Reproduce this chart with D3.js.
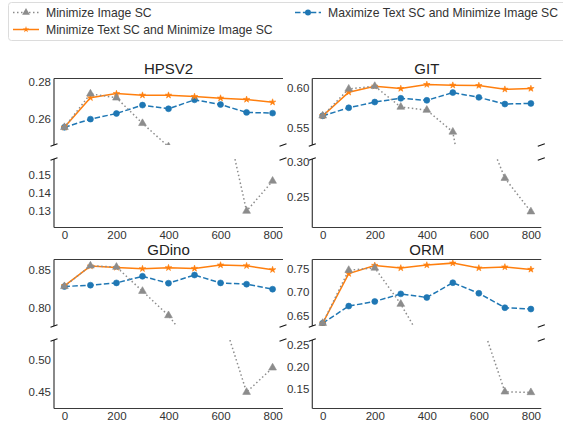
<!DOCTYPE html>
<html>
<head>
<meta charset="utf-8">
<script src="https://cdn.jsdelivr.net/npm/d3@7"></script>
<style>
body { margin: 0; background: #fff; }
text { font-family: "Liberation Sans", Arial, sans-serif; }
</style>
</head>
<body>
<svg id="chart" width="563" height="423"></svg>
<script>
// ---- data ----
var steps = [0, 100, 200, 300, 400, 500, 600, 700, 800];
var xTicks = [0, 200, 400, 600, 800];
var panelNames = ["HPSV2", "GIT", "GDino", "ORM"];
var seriesNames = ["Minimize Image SC", "Minimize Text SC and Minimize Image SC", "Maximize Text SC and Minimize Image SC"];

var hpsv2MinImage = [0.2551, 0.2735, 0.2713, 0.2573, 0.2445, 0.220, 0.195, 0.1298, 0.1466];
var hpsv2MinText  = [0.2551, 0.2713, 0.2736, 0.2727, 0.2727, 0.2720, 0.2711, 0.2704, 0.2689];
var hpsv2MaxText  = [0.2551, 0.2596, 0.2627, 0.2673, 0.2653, 0.2702, 0.2676, 0.2633, 0.2629];

var gitMinImage = [0.5654, 0.5988, 0.6021, 0.5763, 0.5725, 0.5454, 0.370, 0.2767, 0.2282];
var gitMinText  = [0.5654, 0.5946, 0.6021, 0.5992, 0.6042, 0.6033, 0.6029, 0.5983, 0.5992];
var gitMaxText  = [0.5654, 0.5754, 0.5825, 0.5871, 0.5846, 0.5942, 0.5883, 0.5800, 0.5808];

var gdinoMinImage = [0.8280, 0.8552, 0.8535, 0.8217, 0.7896, 0.745, 0.577, 0.4500, 0.4880];
var gdinoMinText  = [0.8287, 0.8548, 0.8530, 0.8513, 0.8526, 0.8517, 0.8561, 0.8552, 0.8500];
var gdinoMaxText  = [0.8278, 0.8296, 0.8326, 0.8413, 0.8322, 0.8430, 0.8326, 0.8309, 0.8243];

var ormMinImage = [0.6352, 0.7462, 0.7510, 0.6752, 0.581, 0.450, 0.320, 0.1423, 0.1408];
var ormMinText  = [0.6352, 0.7390, 0.7562, 0.7507, 0.7569, 0.7610, 0.7507, 0.7528, 0.7479];
var ormMaxText  = [0.6352, 0.6710, 0.6807, 0.6966, 0.6890, 0.7200, 0.6979, 0.6676, 0.6648];

// axis limits of the broken axes (upper part / lower part) and their ticks
var upperLims = [[0.2454, 0.2819], [0.5292, 0.6117], [0.7757, 0.8635], [0.6293, 0.7686]];
var lowerLims = [[0.1206, 0.1589], [0.2053, 0.3044], [0.4245, 0.5313], [0.1038, 0.2615]];
var upperTicks = [[0.26, 0.28], [0.55, 0.60], [0.80, 0.85], [0.65, 0.70, 0.75]];
var lowerTicks = [[0.13, 0.14, 0.15], [0.25, 0.30], [0.45, 0.50], [0.15, 0.20, 0.25]];

var panelSeries = [
    [hpsv2MaxText, hpsv2MinText, hpsv2MinImage],
    [gitMaxText, gitMinText, gitMinImage],
    [gdinoMaxText, gdinoMinText, gdinoMinImage],
    [ormMaxText, ormMinText, ormMinImage]
];

// ---- styles ----
var styles = {
    maxText:  { color: "#1f77b4", dash: "5.5,2.4", symbol: d3.symbolCircle, size: 28 },
    minText:  { color: "#ff7f0e", dash: null, symbol: d3.symbolStar, size: 13 },
    minImage: { color: "#8c8c8c", dash: "1.5,2.5", symbol: d3.symbolTriangle, size: 26 }
};
var styleOrder = ["maxText", "minText", "minImage"];

var colX = [54, 312.3],
    rowY = [78.5, 259.5],
    panelW = 229,
    upperH = 66.5,
    gap = 14,
    lowerH = 68.5,
    spineColor = "#3a3a3a";

var svg = d3.select("#chart");

var xScale = d3.scaleLinear().domain([-40, 840]).range([0, panelW]);

var drawPart = function(g, id, data, ylim, ticks, h, isUpper) {
    var yScale = d3.scaleLinear().domain(ylim).range([h, 0]);

    g.append("clipPath").attr("id", id)
        .append("rect").attr("width", panelW).attr("height", h);

    var plot = g.append("g").attr("clip-path", "url(#" + id + ")");

    data.forEach(function(vals, k) {
        var st = styles[styleOrder[k]];
        var line = d3.line()
            .x(function(d, i) { return xScale(steps[i]); })
            .y(function(d) { return yScale(d); });
        plot.append("path")
            .attr("d", line(vals))
            .attr("fill", "none")
            .attr("stroke", st.color)
            .attr("stroke-width", 1.5)
            .attr("stroke-dasharray", st.dash);
        plot.selectAll(".m" + k)
            .data(vals)
            .enter()
            .append("path")
            .attr("class", "m" + k)
            .attr("transform", function(d, i) { return "translate(" + xScale(steps[i]) + "," + yScale(d) + ")"; })
            .attr("d", d3.symbol().type(st.symbol).size(st.size))
            .attr("fill", st.color)
            .attr("stroke", st.color)
            .attr("stroke-width", 0.6);
    });

    // y ticks, no tick lines
    var yAxis = g.append("g")
        .call(d3.axisLeft(yScale).tickValues(ticks).tickSize(0).tickPadding(3).tickFormat(d3.format(".2f")));
    yAxis.select(".domain").remove();
    yAxis.selectAll("text")
        .attr("fill", "#333")
        .style("font-size", "11.5px")
        .style("font-family", "'Liberation Sans', Arial, sans-serif");

    // spines
    g.append("line").attr("x1", 0).attr("x2", 0).attr("y1", 0).attr("y2", h)
        .attr("stroke", spineColor).attr("stroke-width", 1.2);
    var edgeY = isUpper ? 0 : h;
    g.append("line").attr("x1", 0).attr("x2", panelW).attr("y1", edgeY).attr("y2", edgeY)
        .attr("stroke", spineColor).attr("stroke-width", 1.2);

    // break marks
    var markY = isUpper ? h : 0;
    [0, panelW].forEach(function(mx) {
        g.append("line")
            .attr("x1", mx - 3.5).attr("y1", markY + 1.2)
            .attr("x2", mx + 3.5).attr("y2", markY - 1.2)
            .attr("stroke", "#111").attr("stroke-width", 1.1);
    });

    return yScale;
};

panelNames.forEach(function(name, p) {
    var col = p % 2, row = Math.floor(p / 2);
    var panel = svg.append("g")
        .attr("transform", "translate(" + colX[col] + "," + rowY[row] + ")");

    panel.append("text")
        .attr("x", panelW / 2)
        .attr("y", -5)
        .attr("text-anchor", "middle")
        .attr("fill", "#222")
        .style("font-size", "15px")
        .text(name);

    var upper = panel.append("g");
    drawPart(upper, "clipU" + p, panelSeries[p], upperLims[p], upperTicks[p], upperH, true);

    var lower = panel.append("g").attr("transform", "translate(0," + (upperH + gap) + ")");
    drawPart(lower, "clipL" + p, panelSeries[p], lowerLims[p], lowerTicks[p], lowerH, false);

    var xAxis = lower.append("g")
        .attr("transform", "translate(0," + lowerH + ")")
        .call(d3.axisBottom(xScale).tickValues(xTicks).tickSize(0).tickPadding(3));
    xAxis.select(".domain").remove();
    xAxis.selectAll("text")
        .attr("fill", "#333")
        .style("font-size", "11.5px")
        .style("font-family", "'Liberation Sans', Arial, sans-serif");
});

// ---- legend ----
var legend = svg.append("g");
legend.append("rect")
    .attr("x", 8.5).attr("y", 2.5)
    .attr("width", 565).attr("height", 38)
    .attr("rx", 3)
    .attr("fill", "#fff")
    .attr("stroke", "#dcdcdc");

var legendItems = [
    { label: seriesNames[0], style: "minImage", x: 13, y: 12.5 },
    { label: seriesNames[1], style: "minText", x: 13, y: 29.5 },
    { label: seriesNames[2], style: "maxText", x: 295, y: 12.5 }
];

legendItems.forEach(function(it) {
    var st = styles[it.style];
    var item = legend.append("g").attr("transform", "translate(" + it.x + "," + it.y + ")");
    item.append("line")
        .attr("x1", 0).attr("x2", 26)
        .attr("stroke", st.color)
        .attr("stroke-width", 1.5)
        .attr("stroke-dasharray", st.dash);
    item.append("path")
        .attr("transform", "translate(13,0)")
        .attr("d", d3.symbol().type(st.symbol).size(st.size))
        .attr("fill", st.color);
    item.append("text")
        .attr("x", 33)
        .attr("dy", "0.35em")
        .attr("fill", "#333")
        .style("font-size", "12.2px")
        .text(it.label);
});
</script>
</body>
</html>
